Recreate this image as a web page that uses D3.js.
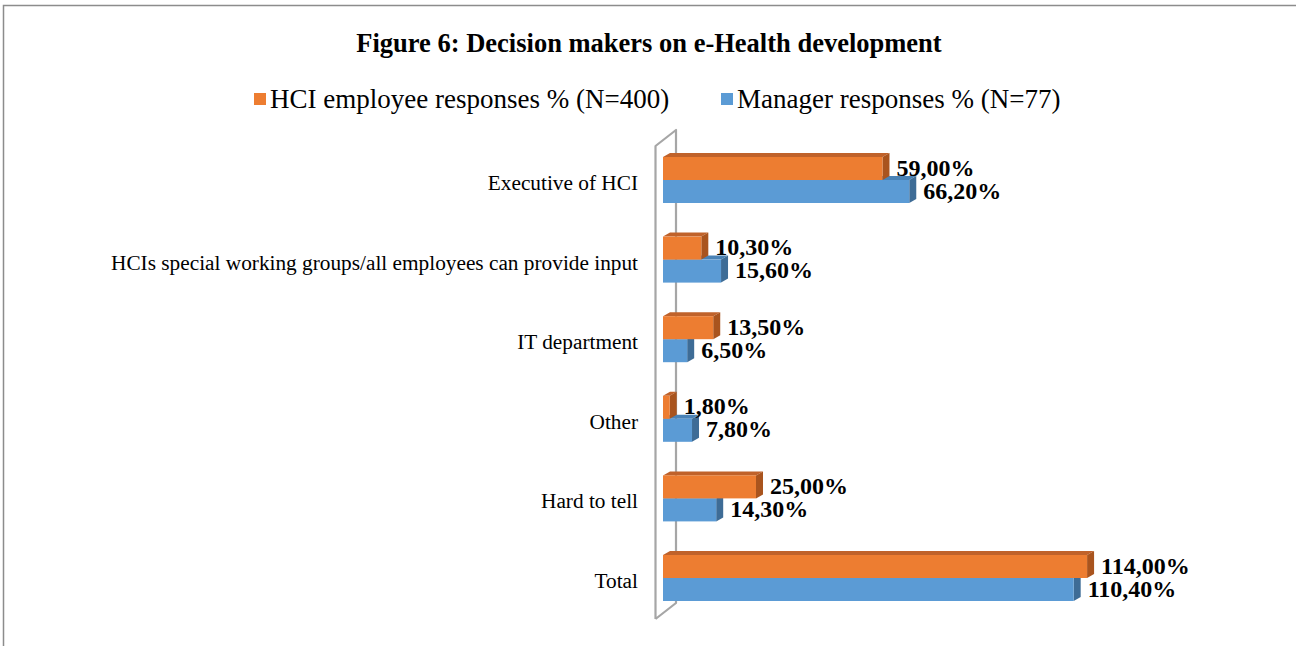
<!DOCTYPE html>
<html>
<head>
<meta charset="utf-8">
<script src="https://cdn.jsdelivr.net/npm/d3@7"></script>
<style>
  body { margin: 0; background: #fff; }
  svg { display: block; }
</style>
</head>
<body>
<div id="chart"></div>
<script>
// chart data
var categories = ["Executive of HCI", "HCIs special working groups/all employees can provide input",
                  "IT department ", "Other", "Hard to tell", "Total"];
var seriesNames = ["HCI employee responses % (N=400)", "Manager responses % (N=77)"];
var employeeValues = [59.0, 10.3, 13.5, 1.8, 25.0, 114.0];
var managerValues = [66.2, 15.6, 6.5, 7.8, 14.3, 110.4];

var W = 1296, H = 646;
var serif = "'Liberation Serif', 'Times New Roman', Times, serif";
var front = ["#ED7D31", "#5B9BD5"],
    topc = ["#C0622A", "#4A82B5"],
    side = ["#A9541E", "#3E6C96"];
var depthX = 7, depthY = -4;

var svg = d3.select("#chart").append("svg")
    .attr("width", W).attr("height", H);

// outer frame (top + left visible)
svg.append("path")
    .attr("d", "M3.5,646 L3.5,5.5 L1296,5.5")
    .attr("fill", "none").attr("stroke", "#8c8c8c").attr("stroke-width", 1.5);

svg.append("text")
    .attr("x", 649).attr("y", 52)
    .attr("text-anchor", "middle")
    .style("font-family", serif)
    .style("font-weight", "bold").style("font-size", "26.5px")
    .text("Figure 6: Decision makers on e-Health development");

// legend
var legendX = [254, 721];
seriesNames.forEach(function(n, i) {
    svg.append("rect").attr("x", legendX[i]).attr("y", 93).attr("width", 12).attr("height", 12)
        .attr("fill", front[i]);
    svg.append("text").attr("x", legendX[i] + 16).attr("y", 108)
        .style("font-family", serif)
        .style("font-size", "27px").attr("fill", "#000")
        .text(n);
});

var x = d3.scaleLinear().domain([0, 100]).range([663, 1035]);
var y = d3.scalePoint().domain(categories).range([180, 578]);
var inner = d3.scaleBand().domain([0, 1]).range([-23, 23]).padding(0);

// 3D wall at axis
var wx0 = 655.5, wx1 = 676;
svg.append("path")
    .attr("d", "M" + wx0 + ",619 L" + wx0 + ",146 L" + wx1 + ",130 L" + wx1 + ",603 L" + wx0 + ",619")
    .attr("fill", "none").attr("stroke", "#a6a6a6").attr("stroke-width", 2.2)
    .attr("stroke-linejoin", "round");

// category labels
svg.selectAll(".cat").data(categories).enter().append("text")
    .attr("x", 638).attr("y", function(d) { return y(d) + 10; })
    .attr("text-anchor", "end")
    .style("font-family", serif)
    .style("font-size", "21.3px")
    .text(function(d) { return d; });

function fmt(v) { return v.toFixed(2).replace(".", ",") + "%"; }

var rows = categories.map(function(c, i) {
    return [{ s: 0, c: c, v: employeeValues[i] }, { s: 1, c: c, v: managerValues[i] }];
});

// draw manager (lower) bars first, then employee bars on top
[1, 0].forEach(function(s) {
    var g = svg.append("g");
    rows.forEach(function(r) {
        var d = r[s];
        var x0 = x(0), x1 = x(d.v);
        var y0 = y(d.c) + inner(s), h = inner.bandwidth();
        // top face
        g.append("path")
            .attr("d", "M" + x0 + "," + y0 + " L" + (x0 + depthX) + "," + (y0 + depthY) +
                " L" + (x1 + depthX) + "," + (y0 + depthY) + " L" + x1 + "," + y0 + "Z")
            .attr("fill", topc[s]);
        // side face
        g.append("path")
            .attr("d", "M" + x1 + "," + y0 + " L" + (x1 + depthX) + "," + (y0 + depthY) +
                " L" + (x1 + depthX) + "," + (y0 + h + depthY) + " L" + x1 + "," + (y0 + h) + "Z")
            .attr("fill", side[s]);
        // front face
        g.append("rect")
            .attr("x", x0).attr("y", y0)
            .attr("width", x1 - x0).attr("height", h)
            .attr("fill", front[s]);
    });
});

// value labels
rows.forEach(function(r) {
    r.forEach(function(d) {
        svg.append("text")
            .attr("x", x(d.v) + depthX + 7)
            .attr("y", y(d.c) + inner(d.s) + inner.bandwidth() / 2 + 7)
            .style("font-family", serif)
            .style("font-weight", "bold").style("font-size", "24px")
            .text(fmt(d.v));
    });
});
</script>
</body>
</html>
